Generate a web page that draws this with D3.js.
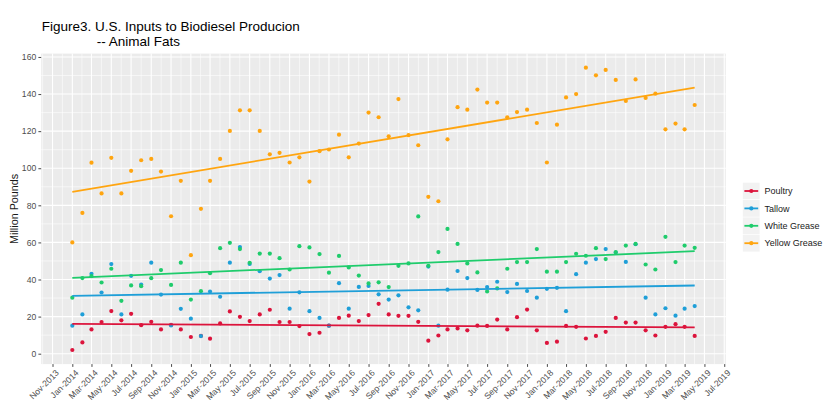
<!DOCTYPE html>
<html><head><meta charset="utf-8">
<script src="https://cdn.jsdelivr.net/npm/d3@7"></script>
<style>body{margin:0;background:#fff;} svg{display:block;font-family:"Liberation Sans",Arial,sans-serif;}</style>
</head><body><svg id="c" width="839" height="417"></svg>
<script>
// ---- data ----
const months = [
"2014-01","2014-02","2014-03","2014-04","2014-05","2014-06","2014-07","2014-08","2014-09","2014-10","2014-11","2014-12",
"2015-01","2015-02","2015-03","2015-04","2015-05","2015-06","2015-07","2015-08","2015-09","2015-10","2015-11","2015-12",
"2016-01","2016-02","2016-03","2016-04","2016-05","2016-06","2016-07","2016-08","2016-09","2016-10","2016-11","2016-12",
"2017-01","2017-02","2017-03","2017-04","2017-05","2017-06","2017-07","2017-08","2017-09","2017-10","2017-11","2017-12",
"2018-01","2018-02","2018-03","2018-04","2018-05","2018-06","2018-07","2018-08","2018-09","2018-10","2018-11","2018-12",
"2019-01","2019-02","2019-03","2019-04"];
const poultry = [2.0,6.1,13.1,17.1,23.0,18.0,21.5,15.4,17.2,13.1,15.5,13.1,
9.0,9.6,8.1,16.3,22.8,19.9,17.6,21.2,23.7,17.1,17.1,14.9,
10.6,11.3,15.1,19.3,20.5,17.6,20.8,26.9,21.2,20.4,20.4,17.2,
7.0,9.8,13.1,13.6,12.6,15.1,15.0,18.4,13.1,19.7,23.8,12.6,
5.8,6.5,15.0,14.5,8.2,9.6,11.8,19.3,16.8,16.8,12.6,9.8,
14.5,15.9,14.5,9.6];
const tallow = [15.1,21.2,43.1,33.0,48.3,21.2,42.0,37.3,49.1,31.9,15.2,24.2,
18.9,9.5,33.5,30.7,49.1,57.5,48.4,44.5,40.5,42.4,24.3,33.1,
22.9,19.3,15.1,38.0,24.3,36.0,36.5,32.0,29.2,31.5,25.0,23.4,
47.0,15.1,34.5,44.6,40.8,34.4,35.9,38.8,33.2,37.6,33.8,30.2,
35.0,35.5,22.9,42.9,49.1,51.0,56.4,54.5,49.5,59.0,30.2,21.2,
24.5,20.5,24.3,25.7];
const whiteGrease = [30.2,40.8,41.8,38.4,45.8,28.5,36.8,36.4,40.7,45.1,37.1,49.1,
29.2,33.7,43.4,56.9,59.8,56.4,49.0,54.0,54.0,51.5,45.4,58.0,
57.3,53.7,43.7,52.7,46.5,42.1,37.9,38.5,35.9,47.4,48.7,74.0,
47.4,54.8,67.3,59.2,48.7,43.8,33.6,35.2,45.8,49.4,49.4,56.4,
44.2,44.2,49.4,53.9,52.8,56.9,51.0,54.8,58.3,59.2,48.1,45.4,
63.0,49.4,58.3,57.1];
const yellowGrease = [60.0,75.9,103.0,86.4,105.6,86.4,98.6,104.3,105.0,98.2,74.1,93.2,
53.1,78.1,93.2,105.0,120.1,131.2,131.2,120.1,107.5,108.3,103.1,105.9,
92.8,109.2,110.1,118.1,105.9,113.3,130.0,127.5,117.2,137.3,117.8,112.4,
84.6,82.2,115.6,132.9,131.6,142.4,135.4,135.4,127.5,130.3,131.6,124.4,
103.1,123.5,138.2,140.0,154.2,150.1,153.0,147.6,136.3,147.9,137.9,140.2,
121.0,124.1,121.0,134.1];
const seriesNames = ["Poultry","Tallow","White Grease","Yellow Grease"];
const yTicks = [0,20,40,60,80,100,120,140,160];
const titleLines = ["Figure3. U.S. Inputs to Biodiesel Producion","-- Animal Fats"];
const yTitle = "Million Pounds";

// ---- styles ----
const colors = ["#DC143C","#1F9FD8","#1FCC6C","#FFA510"];
const svg = d3.select("#c");
const P = {l:41.2, r:725.8, t:53.6, b:364.1};
const parse = d3.timeParse("%Y-%m");
const dates = months.map(parse);
const seriesVals = [poultry, tallow, whiteGrease, yellowGrease];

const t0 = dates[0], t1 = dates[dates.length-1];
const pad = (t1 - t0) * 0.05;
const x = d3.scaleTime().domain([new Date(+t0 - pad), new Date(+t1 + pad)]).range([P.l, P.r]);
const all = seriesVals.flat();
const ymin = d3.min(all), ymax = d3.max(all), yp = (ymax - ymin) * 0.05;
const y = d3.scaleLinear().domain([ymin - yp, ymax + yp]).range([P.b, P.t]);

// panel
svg.append("rect").attr("x",P.l).attr("y",P.t).attr("width",P.r-P.l).attr("height",P.b-P.t).attr("fill","#EBEBEB");

// grid
const xMajor = x.ticks(d3.timeMonth.every(2));
const step = 2;
const ext = [d3.timeMonth.offset(xMajor[0],-step), ...xMajor, d3.timeMonth.offset(xMajor[xMajor.length-1],step)];
const xMinor = [];
for (let i=0;i<ext.length-1;i++){ const m = new Date((+ext[i]+ +ext[i+1])/2); if (x(m)>=P.l && x(m)<=P.r) xMinor.push(m); }
const yMinor = [];
const yExt = [yTicks[0]-20, ...yTicks, yTicks[yTicks.length-1]+20];
for (let i=0;i<yExt.length-1;i++){ const m=(yExt[i]+yExt[i+1])/2; if (y(m)<=P.b && y(m)>=P.t) yMinor.push(m); }

const g = svg.append("g");
g.selectAll(".xmin").data(xMinor).join("line").attr("x1",d=>x(d)).attr("x2",d=>x(d)).attr("y1",P.t).attr("y2",P.b).attr("stroke","#fff").attr("stroke-width",0.55);
g.selectAll(".ymin").data(yMinor).join("line").attr("y1",d=>y(d)).attr("y2",d=>y(d)).attr("x1",P.l).attr("x2",P.r).attr("stroke","#fff").attr("stroke-width",0.55);
g.selectAll(".xmaj").data(xMajor).join("line").attr("x1",d=>x(d)).attr("x2",d=>x(d)).attr("y1",P.t).attr("y2",P.b).attr("stroke","#fff").attr("stroke-width",1.1);
g.selectAll(".ymaj").data(yTicks).join("line").attr("y1",d=>y(d)).attr("y2",d=>y(d)).attr("x1",P.l).attr("x2",P.r).attr("stroke","#fff").attr("stroke-width",1.1);

// points
seriesVals.forEach((vals, si) => {
  svg.append("g").selectAll("circle").data(vals).join("circle")
    .attr("cx",(d,i)=>x(dates[i])).attr("cy",d=>y(d)).attr("r",2.1).attr("fill",colors[si]);
});
// linear trend lines
seriesVals.forEach((vals, si) => {
  const xs = dates.map(d=>+d);
  const mx = d3.mean(xs), my = d3.mean(vals);
  let sxy=0, sxx=0;
  xs.forEach((xv,i)=>{ sxy += (xv-mx)*(vals[i]-my); sxx += (xv-mx)*(xv-mx); });
  const b = sxy/sxx, a = my - b*mx;
  const ends = [xs[0], xs[xs.length-1]];
  svg.append("line").attr("x1",x(new Date(ends[0]))).attr("y1",y(a+b*ends[0]))
    .attr("x2",x(new Date(ends[1]))).attr("y2",y(a+b*ends[1]))
    .attr("stroke",colors[si]).attr("stroke-width",1.8);
});

// axes
const fmt = d3.timeFormat("%b-%Y");
const ax = svg.append("g").attr("transform",`translate(0,${P.b})`)
  .call(d3.axisBottom(x).tickValues(xMajor).tickSize(2.8).tickFormat(fmt));
ax.select(".domain").remove();
ax.selectAll(".tick line").attr("stroke","#333").attr("stroke-width",0.9);
ax.selectAll(".tick text").attr("fill","#4D4D4D").attr("font-size","8.6px")
  .attr("text-anchor","end").attr("y",0).attr("dy","0.72em")
  .attr("transform","translate(2,5) rotate(-45)");
const ay = svg.append("g").attr("transform",`translate(${P.l},0)`)
  .call(d3.axisLeft(y).tickValues(yTicks).tickSize(2.8).tickPadding(2.2));
ay.select(".domain").remove();
ay.selectAll(".tick line").attr("stroke","#333").attr("stroke-width",0.9);
ay.selectAll(".tick text").attr("fill","#4D4D4D").attr("font-size","8.6px");

// y title
svg.append("text").attr("transform",`translate(18.3,${(P.t+P.b)/2}) rotate(-90)`)
  .attr("text-anchor","middle").attr("font-size","10.8px").attr("fill","#1a1a1a").text(yTitle);

// title
svg.append("text").attr("x",41.7).attr("y",31.3).attr("font-size","13.5px").attr("fill","#000").text(titleLines[0]);
svg.append("text").attr("x",96.7).attr("y",45.7).attr("font-size","13.5px").attr("fill","#000").text(titleLines[1]);

// legend
const lg = svg.append("g");
seriesNames.forEach((nm, i) => {
  const cy = 191 + i*17.4;
  lg.append("rect").attr("x",742.7).attr("y",cy-8.7).attr("width",17.2).attr("height",17.4).attr("fill","#F2F2F2").attr("stroke","#fff").attr("stroke-width",0.5);
  lg.append("line").attr("x1",744.4).attr("x2",758.2).attr("y1",cy).attr("y2",cy).attr("stroke",colors[i]).attr("stroke-width",1.8);
  lg.append("circle").attr("cx",751.3).attr("cy",cy).attr("r",2.1).attr("fill",colors[i]);
  lg.append("text").attr("x",764.5).attr("y",cy).attr("dy","0.35em").attr("font-size","9px").attr("fill","#1a1a1a").text(nm);
});
</script></body></html>
